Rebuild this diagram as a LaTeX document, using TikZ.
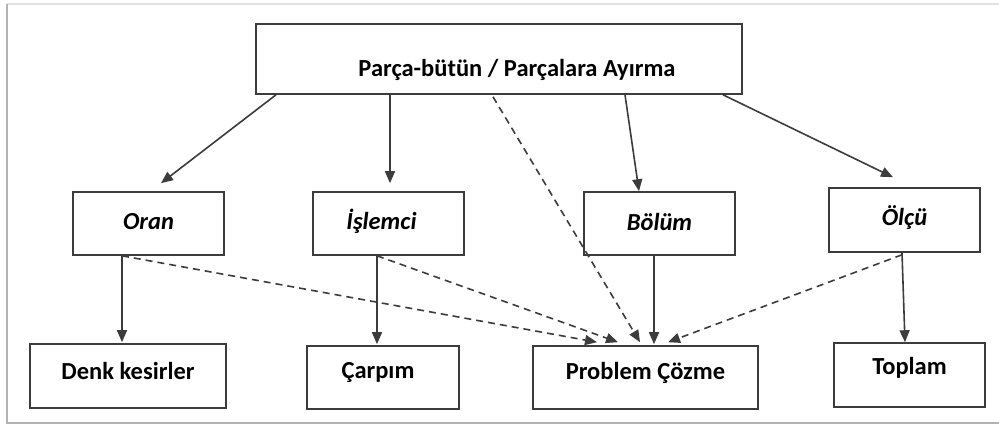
\documentclass[tikz,border=0pt]{standalone}
\usepackage{fontspec}
\setmainfont{Carlito}
\usetikzlibrary{arrows.meta}
\definecolor{edge}{HTML}{3C3C3C}
\definecolor{frame}{HTML}{B4B4B4}
\def\fs{\fontsize{24.5}{29}\selectfont}

\tikzset{
  box/.style={draw=edge, line width=1.6pt, minimum width=151pt, minimum height=63pt, inner sep=0pt},
  headtext/.style={font=\fs\bfseries, text=black},
  kindtext/.style={font=\fs\bfseries\itshape, text=black, yshift=2pt},
  subtext/.style={font=\fs\bfseries, text=black, yshift=5pt},
  arr/.style={draw=edge, line width=1.6pt, -{Triangle[length=12pt,width=10pt]}},
  darr/.style={arr, dash pattern=on 7pt off 5pt}
}

\begin{document}
\begin{tikzpicture}[x=1pt,y=-1pt]
\useasboundingbox (0,0) rectangle (999,428);
% outer frame
\draw[frame!40, line width=1.5pt] (7,4) -- (999,4);
\draw[frame, line width=2.5pt] (7,4) -- (7,423) -- (999,423);

% top box
\node[box, minimum width=486pt, minimum height=70pt,
  label={[headtext, xshift=18pt, yshift=-11pt]center:Parça-bütün / Parçalara Ayırma}] (whole) at (499,59) {};

% middle row
\node[box, label={[kindtext]center:Oran}] (oran) at (148.5,223.5) {};
\node[box, label={[kindtext, xshift=-7pt]center:İşlemci}] (islemci) at (388.5,223.5) {};
\node[box, label={[kindtext]center:Bölüm}] (bolum) at (659.5,223.5) {};
\node[box, minimum height=64pt, label={[kindtext]center:Ölçü}] (olcu) at (904.5,220) {};

% bottom row
\node[box, minimum width=196pt, minimum height=64pt, label={[subtext]center:Denk kesirler}] (denk) at (128,376) {};
\node[box, minimum width=152pt, label={[subtext, xshift=-5pt]center:Çarpım}] (carpim) at (383,377.5) {};
\node[box, minimum width=225pt, label={[subtext]center:Problem Çözme}] (problem) at (645.5,377.5) {};
\node[box, minimum height=64pt, label={[subtext, yshift=2pt]center:Toplam}] (toplam) at (909.5,375) {};

% from the top box
\draw[arr] ([xshift=-223pt]whole.south) -- ([xshift=12.5pt, yshift=8pt]oran.north);
\draw[arr] ([xshift=-109pt]whole.south) -- ([xshift=1.5pt, yshift=8pt]islemci.north);
\draw[darr] ([xshift=-6pt, yshift=-2pt]whole.south) -- ([xshift=-5.5pt, yshift=3pt]problem.north);
\draw[arr] ([xshift=126pt]whole.south) -- ([xshift=-20.5pt]bolum.north);
\draw[arr] ([xshift=224pt]whole.south) -- ([xshift=-11.5pt, yshift=10pt]olcu.north);

% down to the bottom row
\draw[arr] ([xshift=-26.5pt]oran.south) -- ([xshift=-6pt, yshift=1pt]denk.north);
\draw[arr] ([xshift=-11.5pt]islemci.south) -- ([xshift=-6pt, yshift=1pt]carpim.north);
\draw[arr] ([xshift=-5.5pt]bolum.south) -- ([xshift=8.5pt, yshift=1pt]problem.north);
\draw[arr] ([xshift=-2.5pt]olcu.south) -- ([xshift=-4.5pt]toplam.north);

% dashed links to problem solving
\draw[darr] ([xshift=-26.5pt]oran.south) -- ([xshift=-48.5pt, yshift=3pt]problem.north);
\draw[darr] ([xshift=-11.5pt]islemci.south) -- ([xshift=-27.5pt, yshift=3pt]problem.north);
\draw[darr] ([xshift=-2.5pt, yshift=-2pt]olcu.south) -- ([xshift=22.5pt, yshift=3pt]problem.north);

\end{tikzpicture}
\end{document}
